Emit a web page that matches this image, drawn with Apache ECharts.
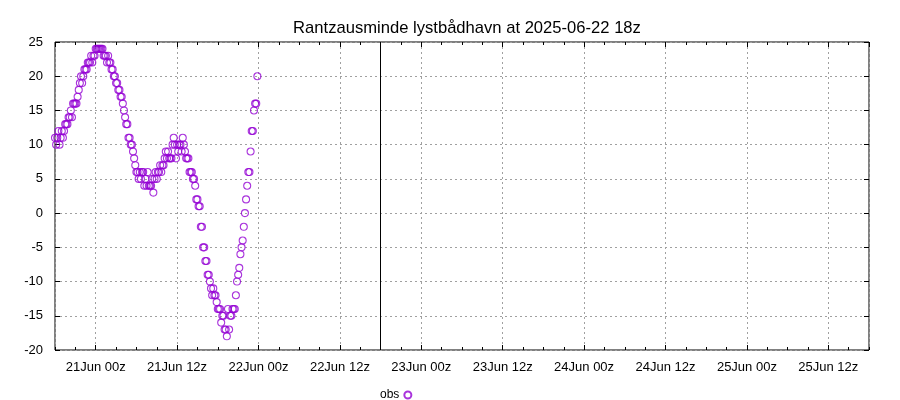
<!DOCTYPE html>
<html>
<head>
<meta charset="utf-8">
<script src="https://cdn.jsdelivr.net/npm/echarts@6/dist/echarts.min.js"></script>
<style>html,body{margin:0;padding:0;background:#fff}#c{width:900px;height:400px}</style>
</head>
<body>
<div id="c"></div>
<script>
// ---- data ----
const chartTitle = 'Rantzausminde lystbådhavn at 2025-06-22 18z';
const seriesName = 'obs';
const obsStart = Date.UTC(2025, 5, 20, 18, 0);   // first observation
const obsStepMinutes = 10;                         // observation spacing
const obsLevel = [
  11,10,11,12,10,11,12,11,12,13,
  13,13,14,14,15,14,16,16,16,16,
  17,18,19,20,19,20,21,21,21,22,
  22,22,23,22,23,23,24,24,24,24,
  24,24,24,23,23,23,22,23,22,22,
  21,21,20,20,19,19,18,18,17,17,
  16,15,14,13,13,11,11,10,10,9,
  8,7,6,6,5,6,5,6,6,4,
  5,4,6,4,4,4,5,3,5,6,
  5,6,6,7,6,7,7,8,9,8,
  9,8,8,8,10,11,10,8,10,9,
  10,10,9,11,10,9,8,8,8,6,
  6,6,5,5,4,2,2,1,1,-2,
  -2,-5,-5,-7,-7,-9,-9,-10,-11,-12,
  -11,-12,-12,-13,-14,-14,-14,-16,-15,-15,
  -17,-17,-18,-14,-17,-15,-15,-14,-14,-14,
  -12,-10,-9,-8,-6,-5,-4,-2,0,2,
  4,6,6,9,12,12,15,16,16,20
];
const analysisTime = Date.UTC(2025, 5, 22, 18, 0);
const axisStart = Date.UTC(2025, 5, 20, 18, 0);
const axisEnd = Date.UTC(2025, 5, 25, 18, 0);
const yMin = -20, yMax = 25, yStep = 5;
const monthNames = ['Jan','Feb','Mar','Apr','May','Jun','Jul','Aug','Sep','Oct','Nov','Dec'];

// ---- build ----
const HOUR = 3600 * 1000;
const obsData = obsLevel.map((v, i) => [obsStart + i * obsStepMinutes * 60000, v]);
const spanHours = (axisEnd - axisStart) / HOUR;
const font = 'Liberation Sans, Arial, sans-serif';
const gridCol = '#a0a0a0';

function fmtTime(v) {
  const d = new Date(v);
  const h = d.getUTCHours();
  if (d.getUTCMinutes() !== 0 || (h !== 0 && h !== 12)) return '';
  return d.getUTCDate() + monthNames[d.getUTCMonth()] + ' ' + String(h).padStart(2, '0') + 'z';
}

const chart = echarts.init(document.getElementById('c'), null, {renderer: 'canvas'});
const majorTime = (pos, labels, split) => ({
  type: 'time', position: pos, min: axisStart, max: axisEnd,
  minInterval: 13 * HOUR, maxInterval: 13 * HOUR, splitNumber: 10,
  axisLine: {show: false, onZero: false},
  axisTick: {show: true, inside: true, length: 5, lineStyle: {color: '#000', width: 1}},
  axisLabel: {show: labels, formatter: fmtTime, color: '#000', fontSize: 13, fontFamily: font, margin: 11},
  splitLine: {show: split, lineStyle: {color: gridCol, width: 1, type: [2, 3]}}
});
const minorHours = (pos) => ({
  type: 'value', position: pos, min: 0, max: spanHours, interval: 3,
  axisLine: {show: false, onZero: false},
  axisTick: {show: true, inside: true, length: 3, lineStyle: {color: '#000', width: 1}},
  axisLabel: {show: false}, splitLine: {show: false}
});
const yAx = (pos, labels, split) => ({
  type: 'value', position: pos, min: yMin, max: yMax, interval: yStep,
  axisLine: {show: false, onZero: false},
  axisTick: {show: true, inside: true, length: 5, lineStyle: {color: '#000', width: 1}},
  axisLabel: {show: labels, color: '#000', fontSize: 13, fontFamily: font, margin: 12},
  splitLine: {show: split, lineStyle: {color: gridCol, width: 1, type: [2, 3]}}
});

chart.setOption({
  animation: false,
  useUTC: true,
  backgroundColor: '#fff',
  title: {
    text: chartTitle, left: 462, top: 15, textAlign: 'center',
    textStyle: {color: '#000', fontSize: 16.6, fontWeight: 'normal', fontFamily: font}
  },
  legend: {
    data: [seriesName], left: 375, top: 384, align: 'right', itemWidth: 7, itemHeight: 7, itemGap: 10,
    textStyle: {color: '#000', fontSize: 12, fontFamily: font}
  },
  grid: {left: 55, right: 31, top: 42, bottom: 50, show: true, borderColor: '#000', borderWidth: 1, backgroundColor: 'transparent'},
  xAxis: [majorTime('bottom', true, true), majorTime('top', false, false), minorHours('bottom'), minorHours('top')],
  yAxis: [yAx('left', true, true), yAx('right', false, false)],
  series: [{
    name: seriesName, type: 'scatter', xAxisIndex: 0, yAxisIndex: 0,
    data: obsData, symbol: 'circle', symbolSize: 7,
    itemStyle: {color: 'rgba(255,255,255,0)', borderColor: '#9400d3', borderWidth: 1.1},
    markLine: {
      silent: true, symbol: ['none', 'none'], label: {show: false},
      lineStyle: {color: '#000', type: 'solid', width: 1},
      data: [{xAxis: analysisTime}]
    }
  }]
});
</script>
</body>
</html>
